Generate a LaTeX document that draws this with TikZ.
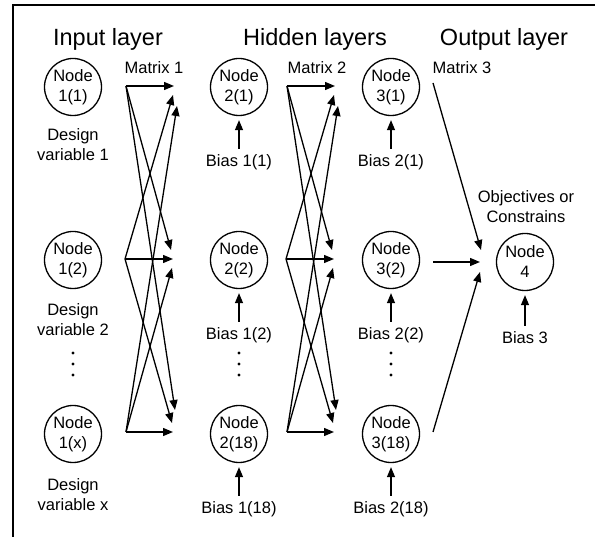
\documentclass[tikz,border=0pt]{standalone}
\usepackage{fontspec}
\setmainfont{Liberation Sans}
\usetikzlibrary{arrows.meta}
\begin{document}
\begin{tikzpicture}[x=1pt,y=-1pt,
  neuron/.style={circle,draw,line width=1.3pt,minimum size=57pt,inner sep=0pt,align=center,font=\fontsize{16.5}{20}\selectfont},
  lbl/.style={align=center,font=\fontsize{16.5}{20}\selectfont,inner sep=0pt},
  ttl/.style={font=\fontsize{23.5}{28}\selectfont,inner sep=0pt,anchor=base},
  conn/.style={line width=1.3pt,-{Triangle[length=10pt,width=8pt]}},
  biasarrow/.style={conn,shorten <=6pt,shorten >=4pt},
  ]
\useasboundingbox (0,0) rectangle (595,537);
\draw[line width=2pt] (13,537) -- (13,5) -- (595,5);

% titles
\node[ttl] (tin) at (108,46) {Input layer};
\node[ttl] (thid) at (315,46) {Hidden layers};
\node[ttl] (tout) at (504,46) {Output layer};

% matrix labels
\node[lbl,anchor=base] (mx1) at (154,74) {Matrix 1};
\node[lbl,anchor=base] (mx2) at (317,74) {Matrix 2};
\node[lbl,anchor=base] (mx3) at (462,74) {Matrix 3};

% neurons
\node[neuron] (n11) at (73,87) {Node\\1(1)};
\node[neuron] (n12) at (73,260) {Node\\1(2)};
\node[neuron] (n1x) at (73,434) {Node\\1(x)};
\node[neuron] (n21) at (239,87) {Node\\2(1)};
\node[neuron] (n22) at (239,260) {Node\\2(2)};
\node[neuron] (n218) at (239,434) {Node\\2(18)};
\node[neuron] (n31) at (391,87) {Node\\3(1)};
\node[neuron] (n32) at (391,260) {Node\\3(2)};
\node[neuron] (n318) at (391,434) {Node\\3(18)};
\node[neuron] (n4) at (525,262) {Node\\4};

% design variable labels (base = last line)
\node[lbl,anchor=base] (dv1) at (73,161) {Design\\variable 1};
\node[lbl,anchor=base] (dv2) at (73,336) {Design\\variable 2};
\node[lbl,anchor=base] (dvx) at (73,511) {Design\\variable x};

% objectives label
\node[lbl,anchor=base] (obj) at (526,223) {Objectives or\\Constrains};

% bias labels
\node[lbl,anchor=base] (b11) at (239,167) {Bias 1(1)};
\node[lbl,anchor=base] (b12) at (239,340) {Bias 1(2)};
\node[lbl,anchor=base] (b118) at (239,514) {Bias 1(18)};
\node[lbl,anchor=base] (b21) at (391,167) {Bias 2(1)};
\node[lbl,anchor=base] (b22) at (391,340) {Bias 2(2)};
\node[lbl,anchor=base] (b218) at (391,514) {Bias 2(18)};
\node[lbl,anchor=base] (b3) at (525,344) {Bias 3};

\foreach \b/\n in {b11/n21,b12/n22,b118/n218,b21/n31,b22/n32,b218/n318,b3/n4}
  \draw[biasarrow] (\b.north) -- (\n.south);

% vertical dots
\foreach \x in {73,239,391}
  \foreach \y in {353,364,375}
    \fill (\x,\y) circle (1.7);

% matrices 1 and 2
\foreach \k/\dx in {1/0,2/161}{
  \coordinate (m\k-s1) at (126+\dx,86);
  \coordinate (m\k-s2) at (125+\dx,259);
  \coordinate (m\k-s3) at (126+\dx,432);
  \coordinate (m\k-t11) at (174+\dx,86);
  \coordinate (m\k-t12) at (173+\dx,95);
  \coordinate (m\k-t13) at (177+\dx,106);
  \coordinate (m\k-t21) at (171+\dx,250);
  \coordinate (m\k-t22) at (173+\dx,259);
  \coordinate (m\k-t23) at (172+\dx,268);
  \coordinate (m\k-t31) at (175+\dx,410);
  \coordinate (m\k-t32) at (172+\dx,423);
  \coordinate (m\k-t33) at (173+\dx,432);
  \draw[conn] (m\k-s1) -- (m\k-t11);
  \draw[conn] (m\k-s2) -- (m\k-t12);
  \draw[conn] (m\k-s3) -- (m\k-t13);
  \draw[conn] (m\k-s1) -- (m\k-t21);
  \draw[conn] (m\k-s2) -- (m\k-t22);
  \draw[conn] (m\k-s3) -- (m\k-t23);
  \draw[conn] (m\k-s1) -- (m\k-t31);
  \draw[conn] (m\k-s2) -- (m\k-t32);
  \draw[conn] (m\k-s3) -- (m\k-t33);
}

% matrix 3
\coordinate (m3-s1) at (433,83);
\coordinate (m3-s2) at (433,262);
\coordinate (m3-s3) at (433,432);
\coordinate (m3-t1) at (481,250);
\coordinate (m3-t2) at (480,262);
\coordinate (m3-t3) at (480,272);
\draw[conn] (m3-s1) -- (m3-t1);
\draw[conn] (m3-s2) -- (m3-t2);
\draw[conn] (m3-s3) -- (m3-t3);
\end{tikzpicture}
\end{document}
